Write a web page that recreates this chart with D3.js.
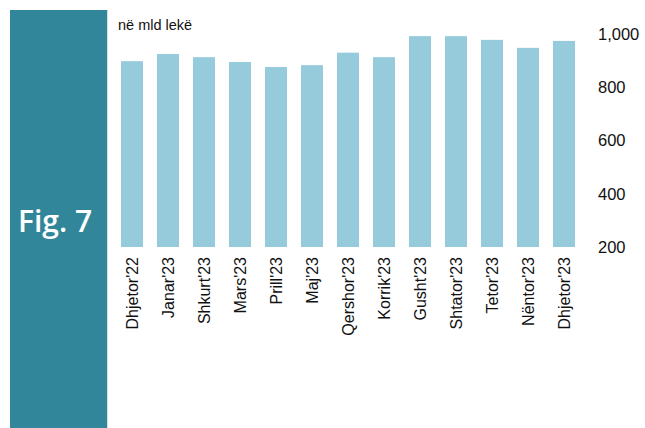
<!DOCTYPE html>
<html><head><meta charset="utf-8">
<script src="https://cdn.jsdelivr.net/npm/d3@7"></script>
<style>body{margin:0;background:#fff;}svg{display:block;}</style>
</head><body>
<svg id="c" width="645" height="428"></svg>
<script>
const categories = ["Dhjetor'22","Janar'23","Shkurt'23","Mars'23","Prill'23","Maj'23","Qershor'23","Korrik'23","Gusht'23","Shtator'23","Tetor'23","Nëntor'23","Dhjetor'23"];
const values = [898, 925, 913, 895, 876, 883, 930, 913, 992, 992, 978, 948, 974];
const yTicks = [200, 400, 600, 800, 1000];
const unitLabel = "në mld lekë";
const figLabel = "Fig. 7";

const svg = d3.select("#c");
const font = "'Liberation Sans', Arial, sans-serif";

// sidebar
svg.append("rect").attr("x",10).attr("y",10).attr("width",97).attr("height",418).attr("fill","#31869a");
svg.append("line").attr("x1",107.5).attr("x2",107.5).attr("y1",10).attr("y2",428).attr("stroke","#cfe3ea").attr("stroke-width",1);
svg.append("text").attr("x",18).attr("y",232).attr("fill","#fff")
  .attr("font-family","'Open Sans', sans-serif").attr("font-weight",600).attr("font-size",30)
  .text(figLabel);

const x = d3.scaleBand().domain(categories).range([114,582]).paddingInner(0.39).paddingOuter(0.195);
const y = d3.scaleLinear().domain([200,1000]).range([247,34]);

svg.append("g").selectAll("rect").data(values).join("rect")
  .attr("x",(d,i)=>x(categories[i]))
  .attr("width",x.bandwidth())
  .attr("y",d=>y(d))
  .attr("height",d=>y(200)-y(d))
  .attr("fill","#96cbdc");

// y axis on right
const ya = svg.append("g").attr("transform","translate(598,0)")
  .call(d3.axisRight(y).tickValues(yTicks).tickSize(0).tickPadding(0).tickFormat(d3.format(",")));
ya.select(".domain").remove();
ya.selectAll("text").attr("font-family",font).attr("font-size",16.5).attr("fill","#111");

// x axis labels rotated
const xa = svg.append("g").attr("transform","translate(0,257)")
  .call(d3.axisBottom(x).tickSize(0).tickPadding(0));
xa.select(".domain").remove();
xa.selectAll("text")
  .attr("font-family",font).attr("font-size",16).attr("fill","#111")
  .attr("transform","rotate(-90)")
  .attr("text-anchor","end").attr("x",0).attr("y",0).attr("dy","0.35em");

svg.append("text").attr("x",118).attr("y",30).attr("font-family",font).attr("font-size",14.5).attr("fill","#111").text(unitLabel);
</script>
</body></html>
